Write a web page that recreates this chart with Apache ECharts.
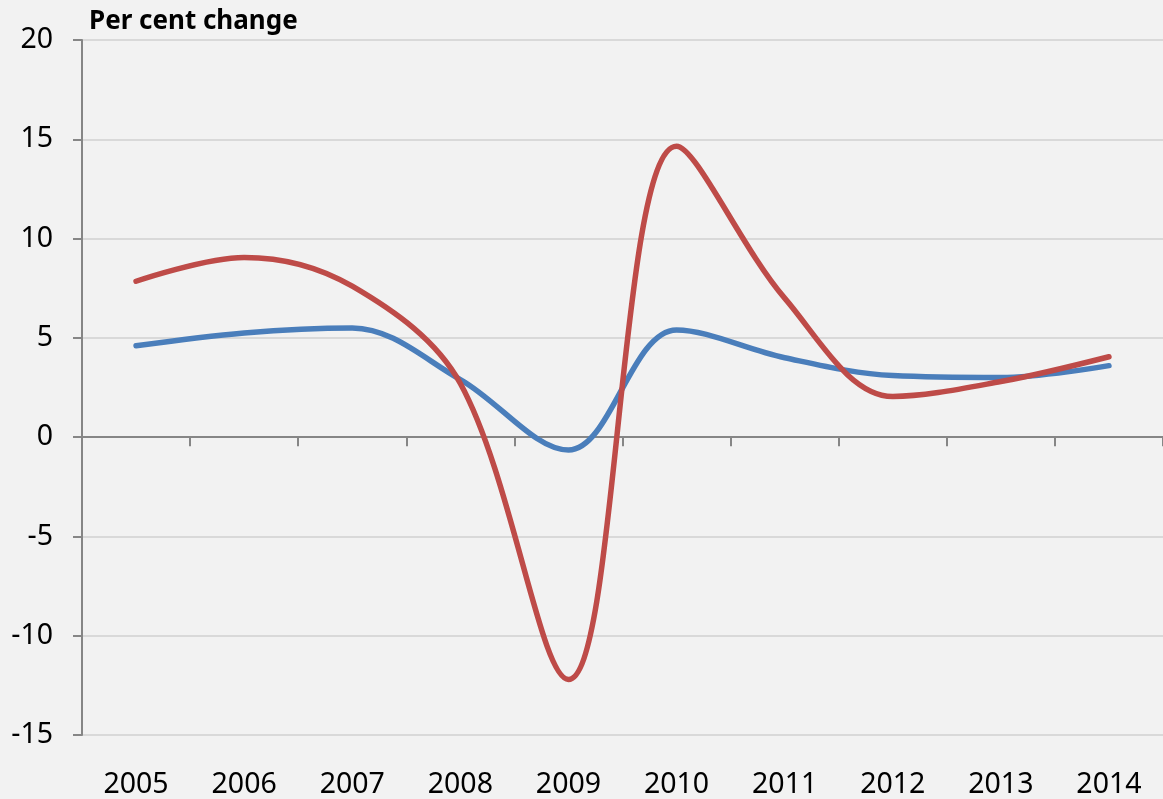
<!DOCTYPE html>
<html>
<head>
<meta charset="utf-8">
<script src="https://cdn.jsdelivr.net/npm/echarts@6/dist/echarts.min.js"></script>
<style>
html, body { margin: 0; padding: 0; background: #f2f2f2; }
#chart { width: 1163px; height: 799px; }
</style>
</head>
<body>
<div id="chart"></div>
<script>
var years = ['2005', '2006', '2007', '2008', '2009', '2010', '2011', '2012', '2013', '2014']
var blueSeries = [4.6, 5.25, 5.5, 2.9, -0.65, 5.4, 4.0, 3.1, 3.0, 3.6]
var redSeries = [7.85, 9.05, 7.6, 2.7, -12.2, 14.65, 7.0, 2.05, 2.8, 4.05]
var yMin = -15
var yMax = 20
var yStep = 5

var font = '"Noto Sans", sans-serif'
var chart = echarts.init(document.getElementById('chart'))
var option = {
    backgroundColor: '#f2f2f2',
    animation: false,
    title: {
        text: 'Per cent change',
        left: 84,
        top: 4,
        textStyle: {
            fontFamily: font,
            fontSize: 26,
            fontWeight: 'bold',
            color: '#000'
        }
    },
    grid: {
        left: 82,
        top: 40,
        bottom: 64,
        right: -10,
        containLabel: false
    },
    xAxis: [{
        type: 'category',
        data: years,
        boundaryGap: true,
        axisLine: { onZero: true, lineStyle: { color: '#868686', width: 2 } },
        axisTick: { show: true, length: 9, lineStyle: { color: '#868686', width: 2 } },
        axisLabel: { show: false },
        splitLine: { show: false }
    }, {
        type: 'category',
        data: years,
        position: 'bottom',
        boundaryGap: true,
        axisLine: { show: false },
        axisTick: { show: false },
        axisLabel: {
            margin: 35,
            fontFamily: font,
            fontSize: 28.5,
            color: '#000'
        }
    }],
    yAxis: {
        type: 'value',
        min: yMin,
        max: yMax,
        interval: yStep,
        axisLine: { show: true, lineStyle: { color: '#868686', width: 2 } },
        axisTick: { show: true, length: 9, lineStyle: { color: '#868686', width: 2 } },
        axisLabel: {
            margin: 29,
            fontFamily: font,
            fontSize: 28.5,
            color: '#000'
        },
        splitLine: { show: true, lineStyle: { color: '#d9d9d9', width: 2 } }
    },
    series: [{
        type: 'line',
        data: blueSeries,
        smooth: 0.35,
        symbol: 'none',
        lineStyle: { color: '#4a7ebb', width: 5.5, cap: 'round' },
        z: 3
    }, {
        type: 'line',
        data: redSeries,
        smooth: 0.35,
        symbol: 'none',
        lineStyle: { color: '#be4b48', width: 5.5, cap: 'round' },
        z: 4
    }]
}
chart.setOption(option)
</script>
</body>
</html>
